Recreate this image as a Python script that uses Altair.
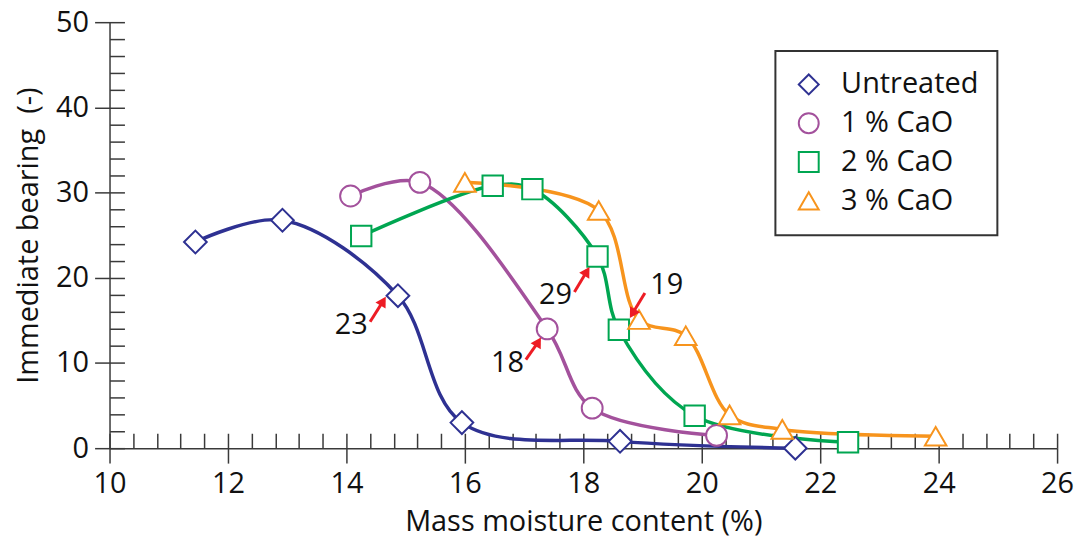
import altair as alt
import pandas as pd

# ---------------- data ----------------
series_names = ["Untreated", "1 % CaO", "2 % CaO", "3 % CaO"]
untreated_x = [11.45, 12.92, 14.87, 15.95, 18.62, 21.58]
untreated_y = [24.2, 26.75, 17.9, 3.0, 0.8, 0.0]
cao1_x = [14.07, 15.24, 17.39, 18.15, 20.25]
cao1_y = [29.6, 31.2, 14.0, 4.7, 1.5]
cao2_x = [14.25, 16.47, 17.14, 18.24, 18.60, 19.88, 22.47]
cao2_y = [24.9, 30.8, 30.4, 22.5, 13.9, 3.8, 0.7]
cao3_x = [16.00, 18.26, 18.94, 19.73, 20.47, 21.36, 23.95]
cao3_y = [31.2, 27.9, 15.1, 13.2, 3.9, 2.2, 1.4]

colors = ["#2e3192", "#a3519c", "#00a651", "#f7941d"]
shapes = ["diamond", "circle", "square", "triangle-up"]
marker_sizes = [520, 440, 420, 470]

ann_labels = ["23", "18", "29", "19"]
ann_text_x = [14.08, 16.72, 17.53, 19.41]
ann_text_y = [14.4, 10.0, 18.0, 19.2]
arrow_tail_x = [14.40, 17.03, 17.85, 19.04]
arrow_tail_y = [14.84, 10.40, 18.34, 18.22]
arrow_head_x = [14.62, 17.24, 18.06, 18.83]
arrow_head_y = [17.26, 12.47, 20.76, 15.80]
arrow_angle = [31, 31, 31, 211]

x_ticks = [round(10 + 0.4 * i, 1) for i in range(41)]
y_ticks = list(range(0, 52, 2))

FONT = "Open Sans"
FS = 29
AXC = "#3a3a3a"
W, H = 952, 428

# ---------------- tables ----------------
rows = []
for name, col, sz, xs, ys in zip(series_names, colors, marker_sizes,
                                 [untreated_x, cao1_x, cao2_x, cao3_x],
                                 [untreated_y, cao1_y, cao2_y, cao3_y]):
    for i, (a, b) in enumerate(zip(xs, ys)):
        rows.append({"series": name, "col": col, "sz": sz, "x": a, "y": b, "order": i})
df = pd.DataFrame(rows)

ann = pd.DataFrame({
    "label": ann_labels, "tx": ann_text_x, "ty": ann_text_y,
    "x0": arrow_tail_x, "y0": arrow_tail_y,
    "x1": arrow_head_x, "y1": arrow_head_y, "ang": arrow_angle,
})

xscale = alt.Scale(domain=[10, 26], nice=False, zero=False)
yscale = alt.Scale(domain=[0, 50], nice=False)
cscale = alt.Scale(domain=series_names, range=colors)
sscale = alt.Scale(domain=series_names, range=shapes)

x_major = "abs(datum.value - round(datum.value / 2) * 2) < 0.01"
x_axis = alt.Axis(
    values=x_ticks, tickCount=200, format=".0f",
    labelExpr=x_major + " ? datum.label : ''",
    title="Mass moisture content (%)",
    grid=True, gridDash=[15, H - 15], gridDashOffset=15,
    gridColor=AXC, gridWidth=1.5, gridOpacity=1,
    tickSize=15, tickColor=AXC, tickWidth=1.5,
    tickOpacity={"condition": {"test": x_major, "value": 1}, "value": 0},
    domainColor=AXC, domainWidth=1.5,
    labelFont=FONT, labelFontSize=FS, labelColor="#111", labelPadding=7,
    labelOverlap=False, labelFlush=False,
    titleFont=FONT, titleFontSize=FS, titleFontWeight="normal", titleColor="#111",
    titlePadding=9,
)
y_axis = alt.Axis(
    values=y_ticks, tickCount=200, format=".0f",
    labelExpr="datum.value % 10 === 0 ? datum.label : ''",
    title="Immediate bearing \u00a0(-)",
    grid=True, gridDash=[15, 4000], gridColor=AXC, gridWidth=1.5, gridOpacity=1,
    tickSize=15, tickColor=AXC, tickWidth=1.5,
    tickOpacity={"condition": {"test": "datum.value % 10 === 0", "value": 1}, "value": 0},
    domainColor=AXC, domainWidth=1.5,
    labelFont=FONT, labelFontSize=FS, labelColor="#111", labelPadding=6,
    labelOverlap=False, labelFlush=False,
    titleFont=FONT, titleFontSize=FS, titleFontWeight="normal", titleColor="#111",
    titlePadding=12,
)

legend = alt.Legend(
    orient="none", legendX=669, legendY=29, title=None,
    padding=19, rowPadding=9, labelFontSize=FS, labelFont=FONT, labelColor="#111",
    symbolSize=400, symbolStrokeWidth=2, labelOffset=18,
    strokeColor="#333", fillColor="white",
)

base = alt.Chart(df)
lines = base.mark_line(interpolate="catmull-rom", strokeWidth=3.5).encode(
    x=alt.X("x:Q", scale=xscale, axis=x_axis),
    y=alt.Y("y:Q", scale=yscale, axis=y_axis),
    stroke=alt.Stroke("col:N", scale=None),
    detail="series:N",
    order="order:Q",
)
points = base.mark_point(filled=False, fill="white", opacity=1, strokeWidth=2).encode(
    x=alt.X("x:Q", scale=xscale),
    y=alt.Y("y:Q", scale=yscale),
    color=alt.Color("series:N", scale=cscale, legend=legend),
    shape=alt.Shape("series:N", scale=sscale, legend=legend),
    size=alt.Size("sz:Q", scale=None),
)

abase = alt.Chart(ann)
arrows = abase.mark_rule(color="#ed1c24", strokeWidth=3).encode(
    x=alt.X("x0:Q", scale=xscale), y=alt.Y("y0:Q", scale=yscale),
    x2="x1:Q", y2="y1:Q",
)
heads = abase.mark_point(shape="triangle-up", filled=True, color="#ed1c24", opacity=1, size=140).encode(
    x=alt.X("x1:Q", scale=xscale), y=alt.Y("y1:Q", scale=yscale),
    angle=alt.Angle("ang:Q", scale=None),
)
texts = abase.mark_text(font=FONT, fontSize=FS, color="#111").encode(
    x=alt.X("tx:Q", scale=xscale), y=alt.Y("ty:Q", scale=yscale),
    text="label:N",
)

chart = alt.layer(lines, points, arrows, heads, texts).properties(
    width=W, height=H,
    autosize=alt.AutoSizeParams(type="none"),
    padding={"left": 102, "top": 13, "right": 18, "bottom": 90},
    background="white",
).configure_view(stroke=None).configure_legend(strokeWidth=2)

chart.save("out.html", embed_options={"renderer": "svg", "actions": False})
